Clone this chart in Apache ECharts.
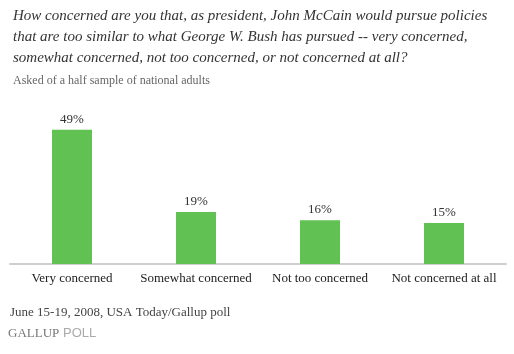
<!DOCTYPE html>
<html>
<head>
<meta charset="utf-8">
<script src="https://cdn.jsdelivr.net/npm/echarts@6/dist/echarts.min.js"></script>
<style>
  html, body { margin: 0; padding: 0; background: #fff; }
</style>
</head>
<body>
<div id="chartsId" style="width: 514px; height: 354px;"></div>
<script>
const categories = ["Very concerned", "Somewhat concerned", "Not too concerned", "Not concerned at all"];
const percents = [49, 19, 16, 15];

const question = "How concerned are you that, as president, John McCain would pursue policies\nthat are too similar to what George W. Bush has pursued -- very concerned,\nsomewhat concerned, not too concerned, or not concerned at all?";
const subNote = "Asked of a half sample of national adults";
const footNote = "June 15-19, 2008, USA Today/Gallup poll";

// 基于准备好的dom，初始化echarts实例
let myChart = echarts.init(document.getElementById("chartsId"));
const serif = "'Liberation Serif', 'DejaVu Serif', serif";
let option = {
  animation: false,
  title: {
    text: question,
    subtext: subNote,
    left: 8,
    top: 1,
    textStyle: {
      fontFamily: serif,
      fontStyle: "italic",
      fontWeight: "normal",
      fontSize: 15,
      lineHeight: 21,
      color: "#333"
    },
    subtextStyle: {
      fontFamily: serif,
      fontSize: 12,
      color: "#666"
    },
    itemGap: 6
  },
  grid: {
    left: 10,
    right: 8,
    top: 127,
    bottom: 90
  },
  xAxis: {
    type: "category",
    data: categories,
    axisLine: { lineStyle: { color: "#cfcfcf", width: 2 } },
    axisTick: { show: false },
    axisLabel: {
      interval: 0,
      fontFamily: serif,
      fontSize: 13,
      color: "#222",
      margin: 8
    }
  },
  yAxis: {
    type: "value",
    min: 0,
    max: 50,
    show: false,
    splitLine: { show: false }
  },
  series: [
    {
      type: "bar",
      data: percents,
      barWidth: 40,
      itemStyle: { color: "#62c153" },
      label: {
        show: true,
        position: "top",
        distance: 4,
        formatter: "{c}%",
        fontFamily: serif,
        fontSize: 13,
        color: "#333"
      }
    }
  ],
  graphic: [
    {
      type: "text",
      left: 10,
      top: 306,
      style: { text: footNote, font: "13px " + serif, fill: "#444" }
    },
    {
      type: "text",
      left: 8,
      top: 327,
      style: { text: "GALLUP", font: "13px " + serif, fill: "#777" }
    },
    {
      type: "text",
      left: 63,
      top: 327,
      style: { text: "POLL", font: "13px 'Liberation Sans', Arial, sans-serif", fill: "#aaa" }
    }
  ]
};
// 绘制图表
myChart.setOption(option);
</script>
</body>
</html>
